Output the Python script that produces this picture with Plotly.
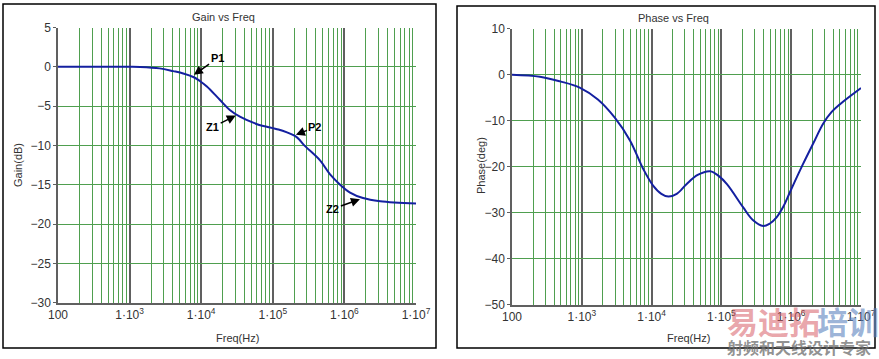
import math
import plotly.graph_objects as go

# ---------------- data ----------------
gain_freq = [100, 316, 1000, 1400, 2630, 4070, 5620, 7760, 9550, 12000, 18200, 25100,
             34700, 60300, 120000, 158000, 204000, 234000, 269000, 457000, 631000,
             871000, 1200000, 1820000, 3160000, 10000000]
gain_db = [0, 0, 0, -0.02, -0.2, -0.55, -0.85, -1.3, -1.8, -2.5, -4.2, -5.5,
           -6.35, -7.3, -7.97, -8.35, -8.8, -9.25, -9.9, -11.9, -13.7,
           -15.0, -16.0, -16.7, -17.1, -17.4]

phase_freq = [100, 251, 490, 933, 1700, 2950, 4900, 7590, 10500, 13800, 17400,
              22900, 31600, 45700, 69200, 91200, 120000, 204000, 282000, 398000,
              490000, 617000, 776000, 955000, 1480000, 2090000, 2880000, 3800000,
              5010000, 10000000]
phase_deg = [0, -0.43, -1.45, -2.8, -5.4, -9.3, -14.3, -20.5, -24.1, -25.9, -26.5,
             -25.9, -23.8, -21.8, -21.0, -22.0, -23.8, -28.8, -31.6, -32.9,
             -32.4, -31.0, -28.6, -25.6, -19.4, -14.8, -10.6, -8.1,
             -6.4, -2.9]

marker_labels = ["P1", "Z1", "P2", "Z2"]
marker_freq = [7700, 31300, 204000, 1700000]
marker_gain = [-1.1, -6.15, -8.7, -16.8]

decade_vals = [100, 1e3, 1e4, 1e5, 1e6, 1e7]
decade_text = ["100", "1·10<sup>3</sup>", "1·10<sup>4</sup>", "1·10<sup>5</sup>",
               "1·10<sup>6</sup>", "1·10<sup>7</sup>"]

# ---------------- styles ----------------
W, H = 879, 359
FONT = "Liberation Sans, Arial, sans-serif"
TXT = "#333333"
GREEN = "#4f9f4f"
DECADE = "#606060"
CURVE = "#1420a0"

def px_x(p):
    return p / W

def px_y(p):
    return 1 - p / H

fig = go.Figure()
fig.add_trace(go.Scatter(x=gain_freq, y=gain_db, mode="lines",
                         line=dict(color=CURVE, width=2, shape="spline", smoothing=1.0),
                         xaxis="x", yaxis="y", showlegend=False, hoverinfo="skip"))
fig.add_trace(go.Scatter(x=phase_freq, y=phase_deg, mode="lines",
                         line=dict(color=CURVE, width=2, shape="spline", smoothing=1.0),
                         xaxis="x2", yaxis="y2", showlegend=False, hoverinfo="skip"))

def xaxis(domain, anchor):
    return dict(domain=domain, anchor=anchor, type="log", range=[2, 7],
                automargin=False,
                tickvals=decade_vals, ticktext=decade_text,
                showgrid=True, gridcolor=DECADE, gridwidth=1.5,
                minor=dict(dtick="D1", showgrid=True, gridcolor=GREEN, gridwidth=1,
                           ticks=""),
                showline=True, linecolor=DECADE, linewidth=1.5,
                ticks="", ticklen=0,
                tickfont=dict(family=FONT, size=12, color=TXT),
                zeroline=False, fixedrange=True)

def yaxis(domain, anchor, rng, dt):
    return dict(domain=domain, anchor=anchor, range=rng, dtick=dt, tick0=0,
                automargin=False,
                showgrid=True, gridcolor=GREEN, gridwidth=1,
                showline=True, linecolor=DECADE, linewidth=1.5,
                ticks="outside", ticklen=3, tickcolor=DECADE,
                tickfont=dict(family=FONT, size=12, color=TXT),
                zeroline=False, fixedrange=True)

fig.update_layout(
    width=W, height=H,
    margin=dict(l=0, r=0, t=0, b=0, autoexpand=False),
    paper_bgcolor="white", plot_bgcolor="white",
    xaxis=xaxis([px_x(58), px_x(416)], "y"),
    yaxis=yaxis([px_y(302.6), px_y(27.5)], "x", [-30, 5], 5),
    xaxis2=xaxis([px_x(512), px_x(861)], "y2"),
    yaxis2=yaxis([px_y(304.7), px_y(28.7)], "x2", [-50, 10], 10),
)

# frames
fig.add_shape(type="rect", xref="paper", yref="paper",
              x0=px_x(3), x1=px_x(436), y0=px_y(348), y1=px_y(4),
              line=dict(color="black", width=1.5), layer="below")
fig.add_shape(type="rect", xref="paper", yref="paper",
              x0=px_x(457), x1=px_x(875), y0=px_y(348), y1=px_y(6),
              line=dict(color="black", width=1.5), layer="below")

ann = []
def text(x, y, s, size=11, angle=0, color=TXT, family=FONT):
    ann.append(dict(x=px_x(x), y=px_y(y), xref="paper", yref="paper", text=s,
                    showarrow=False, textangle=angle, xanchor="center", yanchor="middle",
                    font=dict(family=family, size=size, color=color)))

text(224, 17, "Gain vs Freq", 11)
text(673, 18, "Phase vs Freq", 11)
text(237, 338, "Freq(Hz)", 11)
text(688, 338, "Freq(Hz)", 11)
text(18, 165, "Gain(dB)", 11, -90)
text(481, 165, "Phase(deg)", 11, -90)

offsets = [(24, -17), (-24, 12), (20, -8), (-28, 10)]
for lab, f, g, (ox, oy) in zip(marker_labels, marker_freq, marker_gain, offsets):
    ann.append(dict(x=math.log10(f), y=g, xref="x", yref="y", text="<b>%s</b>" % lab,
                    showarrow=True, ax=ox, ay=oy, arrowhead=2, arrowsize=1.2,
                    arrowwidth=1.5, arrowcolor="black", standoff=1,
                    font=dict(family=FONT, size=11, color="black")))

# watermark
CJK = "Noto Sans CJK SC"
ann.append(dict(x=px_x(725), y=px_y(296), xref="paper", yref="paper", text="易迪拓",
                xanchor="left", yanchor="top", showarrow=False,
                font=dict(family=CJK, size=31, weight="bold", color="rgba(215,90,100,0.55)")))
ann.append(dict(x=px_x(815), y=px_y(296), xref="paper", yref="paper", text="培训",
                xanchor="left", yanchor="top", showarrow=False,
                font=dict(family=CJK, size=31, weight="bold", color="rgba(90,130,190,0.6)")))
ann.append(dict(x=px_x(725), y=px_y(333), xref="paper", yref="paper", text="射频和天线设计专家",
                xanchor="left", yanchor="top", showarrow=False,
                font=dict(family=CJK, size=16, weight="bold", color="rgba(110,110,110,0.75)")))
fig.update_layout(annotations=ann)

fig.write_html("out.html", config={"displayModeBar": False},
               post_script="document.body.style.margin='0';document.body.style.overflow='hidden';")
